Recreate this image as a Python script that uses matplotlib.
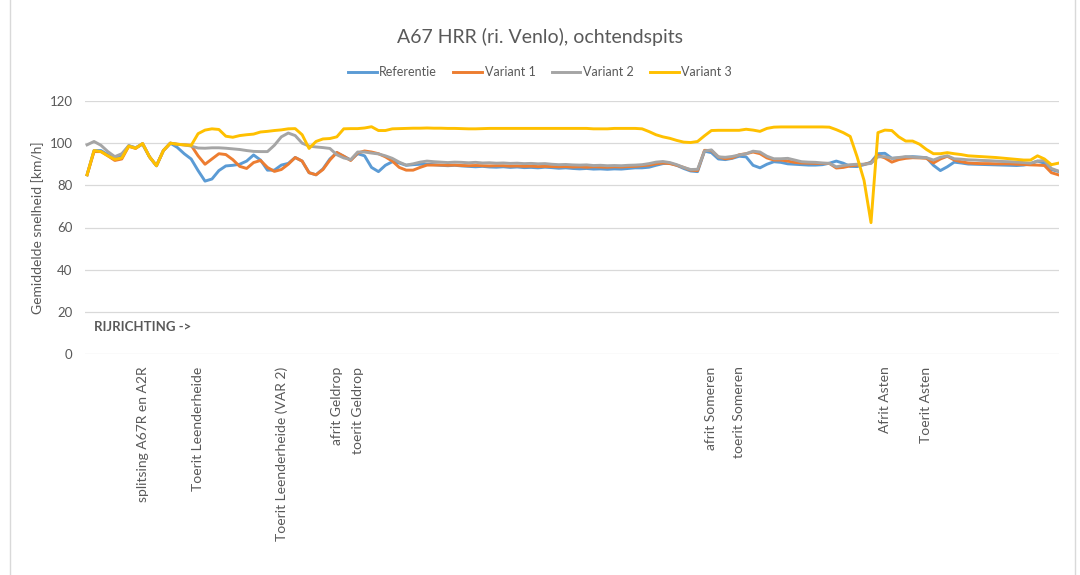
import matplotlib.pyplot as plt
from matplotlib.patches import Rectangle

plt.rcParams['font.family'] = ['Lato', 'DejaVu Sans']

referentie = [85, 96.5, 96.5, 94.5, 92.5, 94, 98.8, 97.8, 99.5, 93.5,
              89.3, 96.5, 100, 98, 95, 92.5, 87, 82, 83, 87,
              89.2, 89.5, 90, 91.5, 94.4, 92, 87.2, 87.2, 89.6, 90.4,
              93.2, 91.5, 86, 85, 87.8, 92.5, 95.5, 93.8, 92, 95,
              94, 88.5, 86.5, 89.5, 91.2, 90.6, 89.5, 89.8, 90, 90,
              89.8, 89.5, 89.3, 89.5, 89.2, 89, 88.8, 89, 88.7, 88.6,
              88.8, 88.5, 88.7, 88.4, 88.5, 88.3, 88.6, 88.4, 88.1, 88.3,
              88, 87.8, 88, 87.7, 87.8, 87.6, 87.8, 87.7, 88, 88.3,
              88.3, 88.6, 89.5, 90.3, 90.5, 89.5, 88, 86.8, 86.5, 96.2,
              95.5, 92.5, 92.2, 92.8, 93.8, 93.5, 89.5, 88.3, 90, 91.2,
              90.9, 90.2, 90, 89.8, 89.6, 89.6, 89.8, 90.5, 91.5, 90.5,
              89, 88.9, 89.8, 91, 95, 95.2, 92.8, 93, 93.4, 93.6,
              93.4, 93.1, 89.5, 87, 88.8, 91, 90.6, 90.1, 90, 89.9,
              89.8, 89.7, 89.6, 89.5, 89.4, 89.6, 90.2, 91.5, 90.5, 87.5,
              86.6]
variant1 = [85, 96, 96, 94, 91.8, 92.5, 98.5, 97.5, 99.8, 93.5,
            89.3, 96.5, 100, 99.5, 99.2, 99, 94, 90, 92.5, 95,
            94.6, 92.2, 89, 88, 90.8, 91.8, 88.5, 86.6, 87.5, 90,
            93.2, 91.5, 86, 85, 87.5, 92, 95.6, 93.8, 91.8, 95.3,
            96.3, 95.8, 95, 93.5, 91.5, 88.5, 87.2, 87.2, 88.5, 89.6,
            89.6, 89.6, 89.5, 89.6, 89.4, 89.3, 89.4, 89.3, 89.2, 89.3,
            89.3, 89.1, 89.2, 89, 89.1, 88.9, 89, 88.9, 88.8, 88.9,
            88.7, 88.8, 88.6, 88.8, 88.7, 88.6, 88.8, 88.7, 88.9, 89,
            89.3, 89.6, 90.2, 90.6, 90.3, 89.5, 88.5, 87.2, 87, 96.6,
            96.5, 93.5, 92.6, 93, 94.5, 95, 95.8, 95, 93, 92,
            92, 91.5, 90.9, 90.6, 90.5, 90.4, 90.4, 90.4, 88.2, 88.5,
            89.2, 89.6, 90, 90.6, 94.2, 93, 91, 92.2, 92.8, 93.1,
            93, 92.8, 90.6, 92.5, 93.8, 92, 91.2, 90.6, 90.4, 90.3,
            90.3, 90.2, 90.2, 90.2, 90, 89.9, 89.7, 89.6, 89.4, 86,
            85]
variant2 = [99.2, 100.8, 99, 96, 93.6, 95, 98.8, 97.8, 99.8, 93.5,
            89.3, 96.5, 100, 99.4, 99.2, 98.6, 97.7, 97.6, 97.8, 97.8,
            97.6, 97.3, 97, 96.5, 96.1, 96, 96, 99, 103, 104.8,
            103.6, 100, 98.6, 98.2, 97.9, 97.5, 94.5, 93, 92.2, 95.8,
            95.8, 95.3, 94.9, 94, 92.8, 91, 89.6, 90.2, 91, 91.5,
            91.2, 91, 90.8, 91, 90.9, 90.7, 90.9, 90.6, 90.7, 90.5,
            90.6, 90.4, 90.5, 90.3, 90.4, 90.2, 90.3, 90, 89.8, 89.9,
            89.7, 89.6, 89.7, 89.4, 89.5, 89.3, 89.4, 89.3, 89.5, 89.6,
            89.8, 90.3, 91, 91.3, 90.8, 89.8, 88.5, 87.5, 87.6, 96.3,
            96.8, 93.5, 93.3, 93.7, 94.4, 95, 96.2, 95.8, 93.8, 92.6,
            92.6, 92.8, 92, 91.2, 91, 90.9, 90.6, 90.4, 88.8, 89.4,
            89.8, 90, 90, 90.4, 93.5, 93.6, 92.8, 93.2, 93.6, 93.4,
            93.2, 93.1, 92, 93.3, 94, 92.6, 92.4, 92.1, 92, 91.8,
            91.7, 91.5, 91.3, 91.2, 91, 90.8, 90.5, 91.5, 91.8, 88,
            86.8]
variant3 = [85, 96.5, 96, 94, 92.3, 93, 98.6, 97.6, 99.8, 93.5,
            89.3, 96.5, 100, 99.5, 99.2, 98.9, 104.5, 106.2, 106.8, 106.5,
            103.3, 102.8, 103.6, 104, 104.3, 105.3, 105.6, 106, 106.3, 106.8,
            106.9, 104, 97.5, 100.8, 102, 102.2, 103, 106.8, 106.9, 106.9,
            107.2, 107.8, 106, 106, 106.8, 106.9, 107, 107.1, 107.1, 107.2,
            107.1, 107.1, 107, 107, 106.9, 106.8, 106.8, 106.9, 107, 107,
            107, 107, 107, 107, 107, 107, 107, 107, 107, 107,
            107, 107, 107, 106.8, 106.8, 106.8, 107, 107, 107, 107,
            106.8, 105.5, 104, 103, 102.3, 101.3, 100.5, 100.3, 100.8, 103.5,
            106, 106.1, 106.1, 106.1, 106.1, 106.6, 106.2, 105.6, 107, 107.6,
            107.7, 107.7, 107.7, 107.7, 107.7, 107.7, 107.7, 107.6, 106.4, 105,
            103.2, 93.5, 82.3, 62.3, 105, 106.2, 106, 103, 101, 101,
            99.5, 97, 95, 95, 95.5, 95, 94.6, 94, 93.8, 93.6,
            93.4, 93.2, 92.9, 92.6, 92.3, 92, 92, 94, 92.5, 89.8,
            90.5]

# labelled measuring points (index on the route, label)
label_pos = [8, 16, 28, 36, 39, 90, 94, 115, 121]
label_txt = ['splitsing A67R en A2R', 'Toerit Leenderheide',
             'Toerit Leenderheide (VAR 2)', 'afrit Geldrop', 'toerit Geldrop',
             'afrit Someren', 'toerit Someren', 'Afrit Asten', 'Toerit Asten']

names = ['Referentie', 'Variant 1', 'Variant 2', 'Variant 3']
colors = ['#5B9BD5', '#ED7D31', '#A5A5A5', '#FFC000']
txt = '#595959'

fig = plt.figure(figsize=(10.8, 5.75), dpi=100)
fig.patches.append(Rectangle((10 / 1080, -0.01), 1065 / 1080, 1.02,
                             transform=fig.transFigure, fill=False,
                             edgecolor='#D9D9D9', lw=1))
ax = fig.add_axes([85 / 1080, 1 - 354 / 575, 974 / 1080, 253 / 575])

x = list(range(len(referentie)))
for serie, name, c in zip([referentie, variant1, variant2, variant3], names, colors):
    ax.plot(x, serie, color=c, lw=2.1, label=name, solid_joinstyle='round')

ax.set_xlim(-0.3, len(x) - 1 + 0.1)
ax.set_ylim(0, 120)
ax.set_yticks(range(0, 121, 20))
ax.grid(axis='y', color='#D9D9D9', lw=0.9)
ax.set_axisbelow(True)
for s in ax.spines.values():
    s.set_visible(False)
ax.tick_params(axis='y', length=0, pad=9, labelsize=9.5, labelcolor=txt)
ax.set_xticks(label_pos)
ax.set_xticklabels(label_txt, rotation=90, fontsize=10, color=txt)
ax.tick_params(axis='x', length=0, pad=9)

ax.set_ylabel('Gemiddelde snelheid [km/h]', fontsize=10, color=txt, labelpad=4)
ax.text(1, 12.8, 'RIJRICHTING ->', fontsize=9.5, fontweight='bold', color=txt,
        va='center', ha='left')

fig.text(0.5, 1 - 37 / 575, 'A67 HRR (ri. Venlo), ochtendspits', fontsize=14,
         color=txt, ha='center', va='center')
fig.legend(loc='center', bbox_to_anchor=(0.5, 1 - 72 / 575), ncol=4, frameon=False,
           fontsize=9, labelcolor=txt, handlelength=2.3, handletextpad=0.2,
           columnspacing=1.3)

fig.savefig('out.png', dpi=100)
